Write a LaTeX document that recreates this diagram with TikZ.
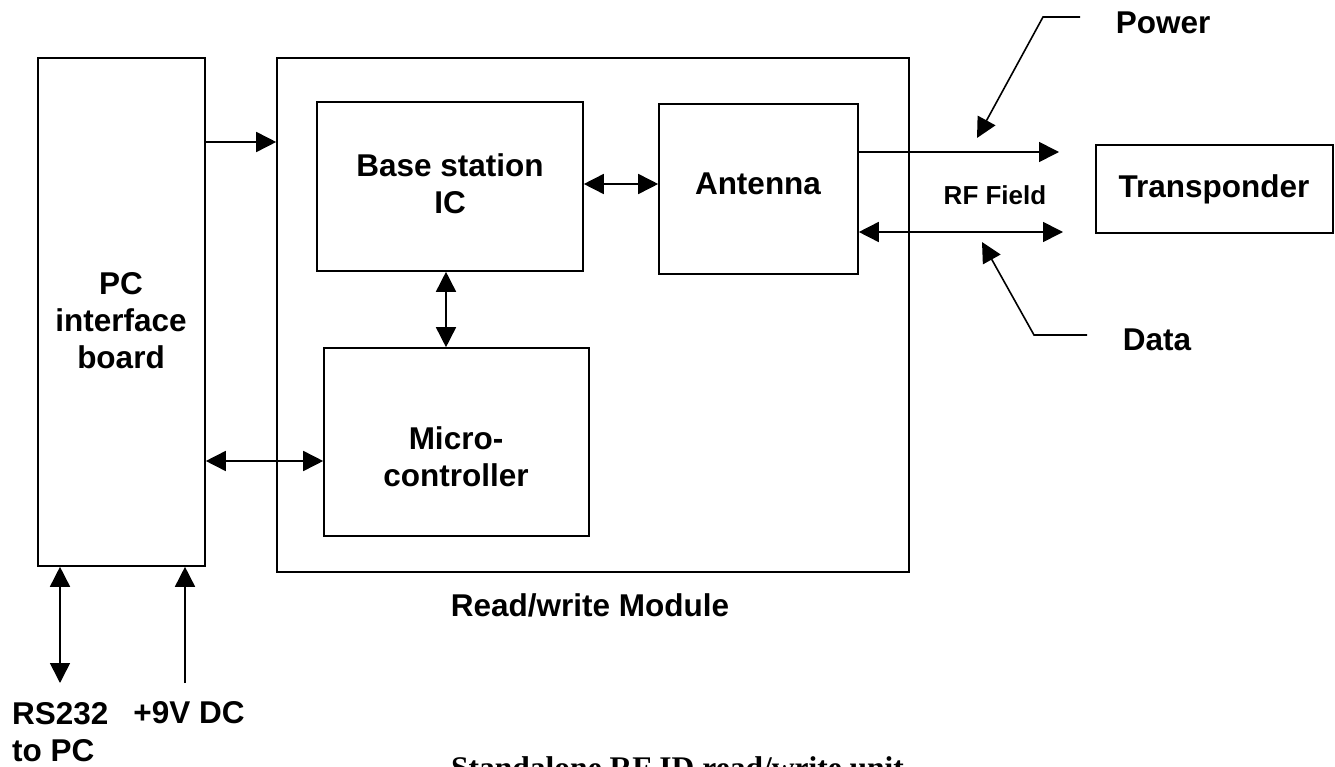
\documentclass[tikz,border=0pt]{standalone}
\usepackage{fontspec}
\setmainfont{Liberation Sans}
\newfontfamily\capfont{Liberation Serif}
\usetikzlibrary{arrows.meta}
\begin{document}
\begin{tikzpicture}[x=1pt,y=-1pt,
  box/.style={draw,line width=1.6pt,inner sep=0pt},
  lbl/.style={inner sep=0pt,align=center,font=\fontsize{31.5}{37}\selectfont\bfseries},
  small/.style={inner sep=0pt,font=\fontsize{26}{30}\selectfont\bfseries},
  conn/.style={line width=1.6pt},
  arr/.style={conn,-{Triangle[length=20pt,width=20pt]}},
  darr/.style={conn,{Triangle[length=20pt,width=20pt]}-{Triangle[length=20pt,width=20pt]}}]
\useasboundingbox (0,0) rectangle (1335,767);
% boxes
\node[box,minimum width=167pt,minimum height=508pt] (pc) at (121.5,312) {};
\node[box,minimum width=632pt,minimum height=514pt] (mod) at (593,315) {};
\node[box,minimum width=266pt,minimum height=169pt] (bs) at (450,186.5) {};
\node[box,minimum width=199pt,minimum height=170pt] (ant) at (758.5,189) {};
\node[box,minimum width=265pt,minimum height=188pt] (mc) at (456.5,442) {};
\node[box,minimum width=237pt,minimum height=88pt] (tr) at (1214.5,189) {};
% texts
\node[lbl] (pct) at (121,321) {PC\\interface\\board};
\node[lbl] (bst) at (450,184) {Base station\\IC};
\node[lbl] (antt) at (758,184) {Antenna};
\node[lbl] (mct) at (456,457) {Micro-\\controller};
\node[lbl] (trt) at (1214,189) {Transponder};
\node[small] (rf) at (995,195) {RF Field};
\node[lbl] (pw) at (1163,23) {Power};
\node[lbl] (dt) at (1157,340) {Data};
\node[lbl] (rw) at (590,605) {Read/write Module};
\node[lbl,anchor=west,align=left] (rs) at (12,732) {RS232\\to PC};
\node[lbl] (dc) at (189,713) {+9V DC};
\node[inner sep=0pt,anchor=base west,font=\fontsize{31.5}{37}\selectfont\capfont\bfseries] (cap) at (451,778) {Standalone RF ID read/write unit};
% helper coordinates
\coordinate (h1) at (0,142);
\coordinate (h2) at (0,184);
\coordinate (h3) at (0,461);
\coordinate (v1) at (446,0);
\coordinate (pwe) at (1059,152);
\coordinate (dte) at (1063,232);
\coordinate (rse) at (60,683);
\coordinate (dcs) at (185,683);
\coordinate (pa) at (1080,17);
\coordinate (pb) at (1043,17);
\coordinate (pt) at (977,138);
\coordinate (da) at (1087,335);
\coordinate (db) at (1034,335);
\coordinate (dtp) at (982,242);
% connectors
\draw[arr] (pc.east |- h1) -- (mod.west |- h1);
\draw[darr] (bs.east |- h2) -- (ant.west |- h2);
\draw[darr] (bs.south -| v1) -- (mc.north -| v1);
\draw[darr] (pc.east |- h3) -- (mc.west |- h3);
\draw[arr] (ant.east |- pwe) -- (pwe);
\draw[darr] (ant.east |- dte) -- (dte);
\draw[darr] (pc.south -| rse) -- (rse);
\draw[arr] (dcs) -- (pc.south -| dcs);
\draw[arr] (pa) -- (pb) -- (pt);
\draw[arr] (da) -- (db) -- (dtp);
\end{tikzpicture}
\end{document}
